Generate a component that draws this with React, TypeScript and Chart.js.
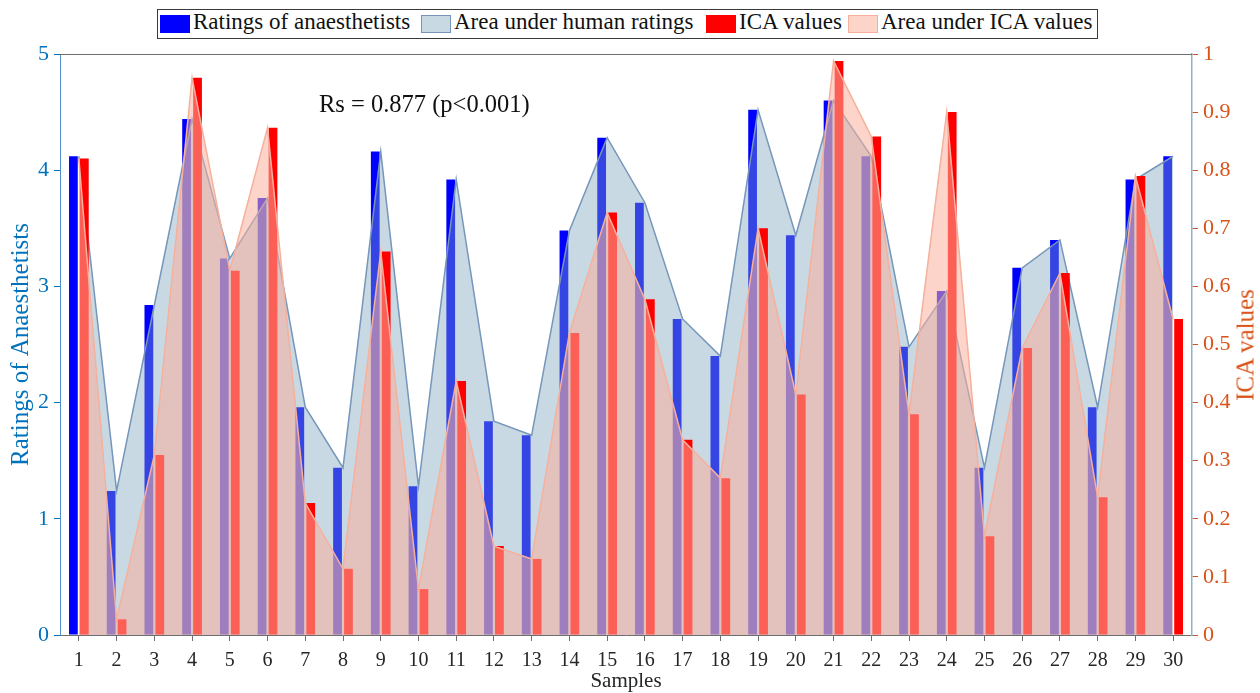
import React, { useEffect, useRef } from "react";
import { Chart, registerables } from "chart.js";

Chart.register(...registerables);

// ---- data ----
const samples = [1, 2, 3, 4, 5, 6, 7, 8, 9, 10, 11, 12, 13, 14, 15, 16, 17, 18, 19, 20, 21, 22, 23, 24, 25, 26, 27, 28, 29, 30];
const ratings = [4.12, 1.24, 2.84, 4.44, 3.24, 3.76, 1.96, 1.44, 4.16, 1.28, 3.92, 1.84, 1.72, 3.48, 4.28, 3.72, 2.72, 2.4, 4.52, 3.44, 4.6, 4.12, 2.48, 2.96, 1.44, 3.16, 3.4, 1.96, 3.92, 4.12];
const icaValues = [0.82, 0.027, 0.31, 0.959, 0.627, 0.873, 0.227, 0.114, 0.66, 0.079, 0.437, 0.153, 0.131, 0.52, 0.727, 0.578, 0.336, 0.27, 0.7, 0.414, 0.988, 0.858, 0.38, 0.9, 0.17, 0.494, 0.623, 0.237, 0.79, 0.544];
const leftTicks = [0, 1, 2, 3, 4, 5];
const rightTicks = [0, 0.1, 0.2, 0.3, 0.4, 0.5, 0.6, 0.7, 0.8, 0.9, 1];

const legendLabels = ["Ratings of anaesthetists", "Area under human ratings", "ICA values", "Area under ICA values"];
const annotationText = "Rs = 0.877 (p<0.001)";
const xTitle = "Samples";
const leftTitle = "Ratings of Anaesthetists";
const rightTitle = "ICA values";

const SERIF = '"Liberation Serif", "Times New Roman", serif';
const LEFT_COLOR = "rgb(0,114,189)";
const RIGHT_COLOR = "rgb(217,83,25)";
const BLUE_AREA = "rgba(126,164,190,0.42)";
const BLUE_AREA_LINE = "rgb(118,150,186)";
const RED_AREA = "rgba(250,176,157,0.54)";
const RED_AREA_LINE = "rgb(246,176,156)";

// dataset indices
const RED_AREA_IDX = 0;
const BLUE_AREA_IDX = 1;
const RED_BAR_IDX = 3;

export default function App() {
  const canvasRef = useRef<HTMLCanvasElement | null>(null);

  useEffect(() => {
    document.body.style.margin = "0";
    const canvas = canvasRef.current;
    if (!canvas) return;
    const pts = (vals: number[]) => samples.map((s, i) => ({ x: s, y: vals[i] }));

    // Left-axis layer (blue bars + blue area) below right-axis layer (red bars + red area)
    const layerPlugin = {
      id: "layerOrder",
      beforeDatasetDraw(chart: any, args: any) {
        if (args.index === RED_BAR_IDX && !(chart as any).$drawingRedBars) return false;
        return true;
      },
      afterDatasetDraw(chart: any, args: any) {
        if (args.index === BLUE_AREA_IDX) {
          const meta = chart.getDatasetMeta(RED_BAR_IDX);
          if (meta && meta.controller) {
            const ctx = chart.ctx;
            ctx.save();
            meta.controller.draw();
            ctx.restore();
          }
        }
      },
    };

    const framePlugin = {
      id: "frameTop",
      afterDraw(chart: any) {
        const { ctx, chartArea } = chart;
        ctx.save();
        ctx.strokeStyle = "#6e6e6e";
        ctx.lineWidth = 1;
        ctx.beginPath();
        ctx.moveTo(chartArea.left, chartArea.top + 0.5);
        ctx.lineTo(chartArea.right, chartArea.top + 0.5);
        ctx.stroke();
        ctx.restore();
      },
    };

    const chart = new Chart(canvas, {
      type: "bar",
      data: {
        datasets: [
          {
            type: "line",
            label: legendLabels[3],
            data: pts(icaValues),
            yAxisID: "y1",
            fill: "origin",
            backgroundColor: RED_AREA,
            borderColor: RED_AREA_LINE,
            borderWidth: 1.5,
            pointRadius: 0,
            tension: 0,
            order: 0,
          } as any,
          {
            type: "line",
            label: legendLabels[1],
            data: pts(ratings),
            yAxisID: "y",
            fill: "origin",
            backgroundColor: BLUE_AREA,
            borderColor: BLUE_AREA_LINE,
            borderWidth: 1.5,
            pointRadius: 0,
            tension: 0,
            order: 1,
          } as any,
          {
            type: "bar",
            label: legendLabels[0],
            data: pts(ratings),
            yAxisID: "y",
            backgroundColor: "#0000ff",
            borderWidth: 0,
            stack: "a",
            order: 2,
            categoryPercentage: 0.58,
            barPercentage: 0.8,
          } as any,
          {
            type: "bar",
            label: legendLabels[2],
            data: pts(icaValues),
            yAxisID: "y1",
            backgroundColor: "#ff0000",
            borderWidth: 0,
            stack: "b",
            order: 3,
            categoryPercentage: 0.58,
            barPercentage: 0.8,
          } as any,
        ],
      },
      options: {
        animation: false,
        responsive: true,
        maintainAspectRatio: false,
        layout: { padding: { top: 54, left: 0, right: 0, bottom: 0 } },
        plugins: { legend: { display: false }, tooltip: { enabled: false } },
        scales: {
          x: {
            type: "linear",
            min: 0.5,
            max: 30.5,
            offset: false,
            afterBuildTicks: (s: any) => {
              s.ticks = samples.map((v) => ({ value: v }));
            },
            afterFit: (s: any) => {
              s.height = 58;
            },
            grid: { drawOnChartArea: false, drawTicks: true, tickLength: 6, tickColor: "#6e6e6e", offset: false },
            border: { display: true, color: "#6e6e6e", width: 1 },
            ticks: {
              color: "#262626",
              font: { family: SERIF, size: 20 },
              padding: 8,
              maxRotation: 0,
              autoSkip: false,
              callback: (v: any) => String(v),
            },
            title: {
              display: true,
              text: xTitle,
              color: "#262626",
              font: { family: SERIF, size: 21, lineHeight: 1 },
              padding: { top: 0, bottom: 1 },
            },
          } as any,
          y: {
            type: "linear",
            position: "left",
            min: 0,
            max: 5,
            afterBuildTicks: (s: any) => {
              s.ticks = leftTicks.map((v) => ({ value: v }));
            },
            afterFit: (s: any) => {
              s.width = 60;
            },
            grid: { drawOnChartArea: false, tickLength: 6, tickColor: LEFT_COLOR },
            border: { display: true, color: "rgb(80,145,205)", width: 1 },
            ticks: { color: LEFT_COLOR, font: { family: SERIF, size: 22 }, padding: 5, callback: (v: any) => String(v) },
            title: {
              display: true,
              text: leftTitle,
              color: LEFT_COLOR,
              font: { family: SERIF, size: 25, lineHeight: 1 },
              padding: { top: 9, bottom: 0 },
            },
          } as any,
          y1: {
            type: "linear",
            position: "right",
            min: 0,
            max: 1,
            afterBuildTicks: (s: any) => {
              s.ticks = rightTicks.map((v) => ({ value: v }));
            },
            afterFit: (s: any) => {
              s.width = 68;
            },
            grid: { drawOnChartArea: false, tickLength: 6, tickColor: RIGHT_COLOR },
            border: { display: true, color: "rgb(140,180,210)", width: 1.5 },
            ticks: {
              color: RIGHT_COLOR,
              font: { family: SERIF, size: 22 },
              padding: 5,
              callback: (v: any) => String(Number(Number(v).toFixed(1))),
            },
          } as any,
        },
      },
      plugins: [layerPlugin, framePlugin],
    } as any);

    return () => chart.destroy();
  }, []);

  const legendText: React.CSSProperties = {
    position: "absolute",
    top: 10,
    fontFamily: SERIF,
    fontSize: 23,
    lineHeight: "23px",
    color: "#111",
    whiteSpace: "nowrap",
  };
  const swatch = (left: number, bg: string, border?: string): React.CSSProperties => ({
    position: "absolute",
    left,
    top: 15,
    width: border ? 28 : 30,
    height: border ? 16 : 18,
    background: bg,
    border: border ? `1px solid ${border}` : "none",
  });

  return (
    <div style={{ position: "relative", width: 1260, height: 693, background: "#fff", overflow: "hidden" }}>
      <canvas ref={canvasRef} />
      <div
        style={{
          position: "absolute",
          left: 157,
          top: 9,
          width: 939,
          height: 28,
          border: "1px solid #3a3a3a",
          background: "#fff",
        }}
      />
      <div style={swatch(160, "#0000ff")} />
      <div style={{ ...legendText, left: 193 }}>{legendLabels[0]}</div>
      <div style={swatch(421, "rgb(201,217,228)", BLUE_AREA_LINE)} />
      <div style={{ ...legendText, left: 454 }}>{legendLabels[1]}</div>
      <div style={swatch(706, "#ff0000")} />
      <div style={{ ...legendText, left: 739 }}>{legendLabels[2]}</div>
      <div style={swatch(848, "rgb(252,213,200)", RED_AREA_LINE)} />
      <div style={{ ...legendText, left: 881 }}>{legendLabels[3]}</div>
      <div
        style={{
          position: "absolute",
          left: 319,
          top: 92,
          fontFamily: SERIF,
          fontSize: 24.5,
          lineHeight: "24px",
          color: "#111",
          whiteSpace: "nowrap",
        }}
      >
        {annotationText}
      </div>
      <div
        style={{
          position: "absolute",
          left: 1245,
          top: 345,
          transform: "translate(-50%, -50%) rotate(-90deg)",
          fontFamily: SERIF,
          fontSize: 25,
          lineHeight: "25px",
          color: RIGHT_COLOR,
          whiteSpace: "nowrap",
        }}
      >
        {rightTitle}
      </div>
    </div>
  );
}
